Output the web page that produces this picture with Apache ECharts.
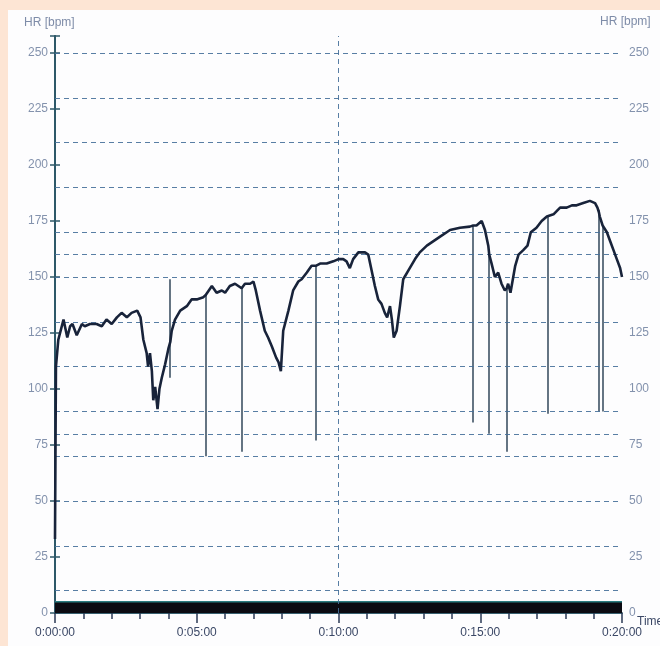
<!DOCTYPE html>
<html><head><meta charset="utf-8">
<script src="https://cdn.jsdelivr.net/npm/echarts@6/dist/echarts.min.js"></script>
<style>
html,body{margin:0;padding:0;background:#fde5d4;width:660px;height:646px;overflow:hidden;}
#paper{position:absolute;left:8px;top:10px;width:652px;height:636px;background:#fdfdfe;}
#chart{position:absolute;left:0;top:0;width:660px;height:646px;}
</style></head><body>
<div id="paper"></div><div id="chart"></div>
<script>
// time in seconds
const timeSec = [0,2,7,18,26,32,37,46,57,63,74,88,99,109,120,131,141,152,162,174,181,187,194,197,201,205,208,212,217,221,226,233,240,244,247,254,265,279,289,300,314,319,332,342,353,360,370,381,388,395,402,413,420,425,434,444,451,459,468,473,478,483,494,504,515,522,533,543,552,561,575,589,600,610,617,624,631,642,656,663,670,677,684,691,698,703,709,713,717,723,730,737,748,762,772,787,801,815,829,836,857,878,885,892,903,910,917,919,924,931,938,945,952,956,959,964,974,981,991,1000,1007,1019,1030,1041,1043,1055,1069,1083,1094,1104,1118,1132,1143,1148,1151,1153,1159,1168,1175,1182,1189,1196,1200];
// heart rate, bpm
const heartRate = [33,110,122,131,123,128,129,124,129,128,129,129,128,131,129,132,134,132,134,135,132,122,116,110,116,108,95,101,91,100,105,111,118,121,126,131,135,137,140,140,141,142,146,143,144,143,146,147,146,145,147,147,148,144,135,126,123,119,114,112,108,126,135,144,148,149,152,155,155,156,156,157,158,158,157,154,158,161,161,160,153,146,140,138,134,132,137,131,123,126,137,149,153,158,161,164,166,168,170,171,172,172.5,173,173,175,171,164,160,156,150,152,147,144,145,147,143,155,160,162,164,170,172,175,177,177,178,181,181,182,182,183,184,183,181,179,177,173,170,166,162,158,154,150];
// artefact spikes (seconds, bpm top, bpm bottom)
const spikeTimes  = [242,319,396,552,885,919,956,1043,1151,1159];
const spikeTop    = [149,142,145,155,173,161,145,177,180,173];
const spikeBottom = [105,70,72,77,85,80,72,89,90,90];
// bottom band (level, bpm) across the session
const bandTimes = [0, 1200];
const bandLevel = [5, 5];
// dashed reference lines
const zoneLines = [10,30,50,70,80,90,110,130,150,160,170,190,210,230,250];
const markTimes = [600];
const xTickStep = 300;
const yTickStep = 25;

const hrData = timeSec.map((t,i)=>[t, heartRate[i]]);
const bandData = bandTimes.map((t,i)=>[t, bandLevel[i]]);
const spikeData = spikeTimes.map((t,i)=>({coords:[[t, spikeTop[i]],[t, spikeBottom[i]]]}));

function fmt(v){
  const h=Math.floor(v/3600), m=Math.floor(v%3600/60), s=Math.round(v%60);
  return h+':'+String(m).padStart(2,'0')+':'+String(s).padStart(2,'0');
}
const FONT = 'Liberation Sans, Arial, sans-serif';
const labelColor = '#8392ad';
const axisColor = '#2e5868';
const yCommon = {
  type:'value', min:0, max:257.6, interval:yTickStep,
  splitLine:{show:false},
  axisLine:{show:true, lineStyle:{color:axisColor, width:2}},
  axisTick:{show:true, length:5, lineStyle:{color:axisColor, width:1.5}},
  axisLabel:{color:labelColor, fontSize:12, fontFamily:FONT, margin:7, padding:[9,0,0,0],
    formatter: v => (Math.abs(v % yTickStep) < 1e-6 ? String(v) : '')}
};
const chart = echarts.init(document.getElementById('chart'), null, {renderer:'canvas'});
chart.setOption({
  animation:false,
  backgroundColor:'transparent',
  grid:{left:55, right:38, top:36, bottom:33, containLabel:false, outerBoundsMode:'none'},
  graphic:[
    {type:'text', left:24, top:17, style:{text:'HR [bpm]', fill:'#7e8ca8', font:'12px '+FONT}},
    {type:'text', left:600, top:16, style:{text:'HR [bpm]', fill:'#7e8ca8', font:'12px '+FONT}},
    {type:'text', left:637, top:616, style:{text:'Time', fill:'#3b4866', font:'12px '+FONT}}
  ],
  xAxis:[
    {type:'value', min:0, max:1200, interval:xTickStep, position:'bottom',
     axisLine:{lineStyle:{color:axisColor, width:1.5}},
     axisTick:{length:10, lineStyle:{color:'#2b3a55', width:1.5}},
     minorTick:{show:true, splitNumber:5, length:6, lineStyle:{color:'#2b3a55', width:1.5}},
     axisLabel:{margin:14, color:'#3b4866', fontSize:12, fontFamily:FONT, formatter:fmt},
     splitLine:{show:false}, minorSplitLine:{show:false}},
    {type:'value', min:0, max:1200, position:'top',
     axisLine:{show:true, lineStyle:{color:axisColor, width:1.5}},
     axisTick:{show:false}, axisLabel:{show:false}, splitLine:{show:false}}
  ],
  yAxis:[
    Object.assign({}, yCommon, {position:'left'}),
    Object.assign({}, yCommon, {position:'right', axisLine:{show:true, lineStyle:{color:axisColor, width:1.5}}})
  ],
  series:[
    {type:'line', name:'band', data:bandData, xAxisIndex:0, yAxisIndex:0,
     symbol:'none', z:2,
     lineStyle:{color:'#2a7c80', width:1.5},
     areaStyle:{color:'#0b0b12', opacity:1},
     markLine:{silent:true, symbol:['none','none'], label:{show:false},
       lineStyle:{type:[5,4], color:'#46709a', width:1, opacity:0.9},
       emphasis:{disabled:true},
       data: zoneLines.map(v=>({yAxis:v})).concat(markTimes.map(t=>({xAxis:t})))}
    },
    {type:'lines', name:'spikes', coordinateSystem:'cartesian2d', xAxisIndex:0, yAxisIndex:0,
     data:spikeData, z:4, silent:true,
     lineStyle:{color:'#3e5264', width:1.6, opacity:1}},
    {type:'line', name:'HR', data:hrData, xAxisIndex:0, yAxisIndex:0,
     symbol:'none', z:5,
     lineStyle:{color:'#18233a', width:2.6}}
  ]
});
</script>
</body></html>
